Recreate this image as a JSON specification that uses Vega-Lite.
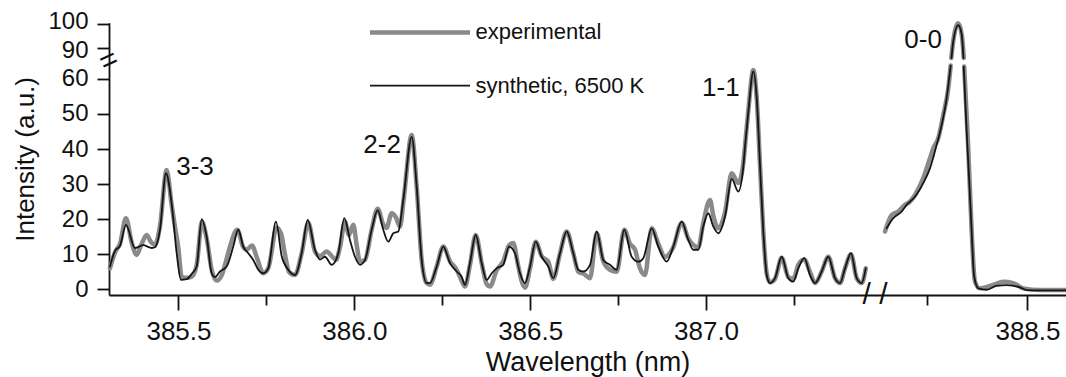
{
  "$schema": "https://vega.github.io/schema/vega-lite/v6.json",
  "width": 957,
  "height": 275,
  "autosize": "none",
  "padding": {"left": 109, "top": 20, "right": 0, "bottom": 82},
  "background": "white",
  "config": {
    "view": {"stroke": null},
    "font": "Liberation Sans",
    "axis": {"labelFont": "Liberation Sans", "titleFont": "Liberation Sans", "labelColor": "#111", "titleColor": "#111", "domainColor": "#111", "tickColor": "#111", "domainWidth": 1.8, "tickWidth": 1.8, "grid": false, "titleFontWeight": "normal", "labelOverlap": false}
  },
  "layer": [
    {
      "data": {"values": [
        {"series":"experimental","part":"a","wavelength":385.3052,"intensity":6.0},
        {"series":"experimental","part":"a","wavelength":385.3194,"intensity":10.5},
        {"series":"experimental","part":"a","wavelength":385.3337,"intensity":13.0},
        {"series":"experimental","part":"a","wavelength":385.3507,"intensity":20.3},
        {"series":"experimental","part":"a","wavelength":385.3678,"intensity":13.0},
        {"series":"experimental","part":"a","wavelength":385.3811,"intensity":9.8},
        {"series":"experimental","part":"a","wavelength":385.3934,"intensity":12.5},
        {"series":"experimental","part":"a","wavelength":385.4096,"intensity":15.5},
        {"series":"experimental","part":"a","wavelength":385.4218,"intensity":13.5},
        {"series":"experimental","part":"a","wavelength":385.4332,"intensity":12.7},
        {"series":"experimental","part":"a","wavelength":385.4474,"intensity":18.0},
        {"series":"experimental","part":"a","wavelength":385.4664,"intensity":34.0},
        {"series":"experimental","part":"a","wavelength":385.4807,"intensity":24.0},
        {"series":"experimental","part":"a","wavelength":385.4900,"intensity":17.9},
        {"series":"experimental","part":"a","wavelength":385.4994,"intensity":12.0},
        {"series":"experimental","part":"a","wavelength":385.5091,"intensity":3.6},
        {"series":"experimental","part":"a","wavelength":385.5233,"intensity":3.3},
        {"series":"experimental","part":"a","wavelength":385.5375,"intensity":3.6},
        {"series":"experimental","part":"a","wavelength":385.5518,"intensity":7.0},
        {"series":"experimental","part":"a","wavelength":385.5668,"intensity":19.2},
        {"series":"experimental","part":"a","wavelength":385.5810,"intensity":14.0},
        {"series":"experimental","part":"a","wavelength":385.5944,"intensity":5.6},
        {"series":"experimental","part":"a","wavelength":385.6086,"intensity":2.5},
        {"series":"experimental","part":"a","wavelength":385.6228,"intensity":4.0},
        {"series":"experimental","part":"a","wavelength":385.6351,"intensity":8.0},
        {"series":"experimental","part":"a","wavelength":385.6464,"intensity":12.2},
        {"series":"experimental","part":"a","wavelength":385.6672,"intensity":17.0},
        {"series":"experimental","part":"a","wavelength":385.6843,"intensity":12.0},
        {"series":"experimental","part":"a","wavelength":385.6939,"intensity":11.3},
        {"series":"experimental","part":"a","wavelength":385.7090,"intensity":12.5},
        {"series":"experimental","part":"a","wavelength":385.7232,"intensity":9.0},
        {"series":"experimental","part":"a","wavelength":385.7411,"intensity":4.6},
        {"series":"experimental","part":"a","wavelength":385.7553,"intensity":6.0},
        {"series":"experimental","part":"a","wavelength":385.7792,"intensity":17.6},
        {"series":"experimental","part":"a","wavelength":385.7915,"intensity":16.0},
        {"series":"experimental","part":"a","wavelength":385.8028,"intensity":10.0},
        {"series":"experimental","part":"a","wavelength":385.8142,"intensity":5.0},
        {"series":"experimental","part":"a","wavelength":385.8313,"intensity":4.1},
        {"series":"experimental","part":"a","wavelength":385.8503,"intensity":10.3},
        {"series":"experimental","part":"a","wavelength":385.8691,"intensity":19.0},
        {"series":"experimental","part":"a","wavelength":385.8881,"intensity":10.8},
        {"series":"experimental","part":"a","wavelength":385.9023,"intensity":9.5},
        {"series":"experimental","part":"a","wavelength":385.9214,"intensity":10.8},
        {"series":"experimental","part":"a","wavelength":385.9356,"intensity":9.5},
        {"series":"experimental","part":"a","wavelength":385.9478,"intensity":8.4},
        {"series":"experimental","part":"a","wavelength":385.9592,"intensity":12.0},
        {"series":"experimental","part":"a","wavelength":385.9734,"intensity":19.3},
        {"series":"experimental","part":"a","wavelength":385.9848,"intensity":15.5},
        {"series":"experimental","part":"a","wavelength":385.9970,"intensity":18.4},
        {"series":"experimental","part":"a","wavelength":386.0076,"intensity":12.0},
        {"series":"experimental","part":"a","wavelength":386.0161,"intensity":7.9},
        {"series":"experimental","part":"a","wavelength":386.0303,"intensity":8.4},
        {"series":"experimental","part":"a","wavelength":386.0493,"intensity":17.0},
        {"series":"experimental","part":"a","wavelength":386.0664,"intensity":23.0},
        {"series":"experimental","part":"a","wavelength":386.0823,"intensity":18.5},
        {"series":"experimental","part":"a","wavelength":386.0914,"intensity":17.5},
        {"series":"experimental","part":"a","wavelength":386.1062,"intensity":21.7},
        {"series":"experimental","part":"a","wavelength":386.1184,"intensity":20.5},
        {"series":"experimental","part":"a","wavelength":386.1298,"intensity":17.9},
        {"series":"experimental","part":"a","wavelength":386.1412,"intensity":26.5},
        {"series":"experimental","part":"a","wavelength":386.1631,"intensity":44.0},
        {"series":"experimental","part":"a","wavelength":386.1773,"intensity":29.3},
        {"series":"experimental","part":"a","wavelength":386.1915,"intensity":8.4},
        {"series":"experimental","part":"a","wavelength":386.2057,"intensity":1.8},
        {"series":"experimental","part":"a","wavelength":386.2151,"intensity":1.3},
        {"series":"experimental","part":"a","wavelength":386.2342,"intensity":6.5},
        {"series":"experimental","part":"a","wavelength":386.2529,"intensity":12.2},
        {"series":"experimental","part":"a","wavelength":386.2720,"intensity":8.0},
        {"series":"experimental","part":"a","wavelength":386.2910,"intensity":5.6},
        {"series":"experimental","part":"a","wavelength":386.3052,"intensity":2.5},
        {"series":"experimental","part":"a","wavelength":386.3146,"intensity":0.8},
        {"series":"experimental","part":"a","wavelength":386.3288,"intensity":7.0},
        {"series":"experimental","part":"a","wavelength":386.3451,"intensity":15.5},
        {"series":"experimental","part":"a","wavelength":386.3621,"intensity":7.5},
        {"series":"experimental","part":"a","wavelength":386.3763,"intensity":1.5},
        {"series":"experimental","part":"a","wavelength":386.3857,"intensity":0.8},
        {"series":"experimental","part":"a","wavelength":386.4048,"intensity":5.5},
        {"series":"experimental","part":"a","wavelength":386.4235,"intensity":8.0},
        {"series":"experimental","part":"a","wavelength":386.4397,"intensity":12.5},
        {"series":"experimental","part":"a","wavelength":386.4520,"intensity":13.2},
        {"series":"experimental","part":"a","wavelength":386.4653,"intensity":7.0},
        {"series":"experimental","part":"a","wavelength":386.4767,"intensity":2.0},
        {"series":"experimental","part":"a","wavelength":386.4852,"intensity":0.5},
        {"series":"experimental","part":"a","wavelength":386.4995,"intensity":6.0},
        {"series":"experimental","part":"a","wavelength":386.5157,"intensity":13.6},
        {"series":"experimental","part":"a","wavelength":386.5327,"intensity":9.5},
        {"series":"experimental","part":"a","wavelength":386.5515,"intensity":7.9},
        {"series":"experimental","part":"a","wavelength":386.5657,"intensity":3.0},
        {"series":"experimental","part":"a","wavelength":386.5848,"intensity":10.3},
        {"series":"experimental","part":"a","wavelength":386.6038,"intensity":16.5},
        {"series":"experimental","part":"a","wavelength":386.6226,"intensity":10.3},
        {"series":"experimental","part":"a","wavelength":386.6368,"intensity":5.0},
        {"series":"experimental","part":"a","wavelength":386.6510,"intensity":4.5},
        {"series":"experimental","part":"a","wavelength":386.6701,"intensity":3.2},
        {"series":"experimental","part":"a","wavelength":386.6891,"intensity":16.0},
        {"series":"experimental","part":"a","wavelength":386.7079,"intensity":8.0},
        {"series":"experimental","part":"a","wavelength":386.7269,"intensity":5.6},
        {"series":"experimental","part":"a","wavelength":386.7460,"intensity":5.0},
        {"series":"experimental","part":"a","wavelength":386.7676,"intensity":17.0},
        {"series":"experimental","part":"a","wavelength":386.7838,"intensity":13.0},
        {"series":"experimental","part":"a","wavelength":386.7980,"intensity":11.3},
        {"series":"experimental","part":"a","wavelength":386.8122,"intensity":6.0},
        {"series":"experimental","part":"a","wavelength":386.8264,"intensity":4.1},
        {"series":"experimental","part":"a","wavelength":386.8455,"intensity":17.4},
        {"series":"experimental","part":"a","wavelength":386.8643,"intensity":13.0},
        {"series":"experimental","part":"a","wavelength":386.8833,"intensity":9.3},
        {"series":"experimental","part":"a","wavelength":386.9069,"intensity":12.0},
        {"series":"experimental","part":"a","wavelength":386.9308,"intensity":19.0},
        {"series":"experimental","part":"a","wavelength":386.9496,"intensity":14.5},
        {"series":"experimental","part":"a","wavelength":386.9638,"intensity":12.7},
        {"series":"experimental","part":"a","wavelength":386.9780,"intensity":12.0},
        {"series":"experimental","part":"a","wavelength":386.9922,"intensity":19.0},
        {"series":"experimental","part":"a","wavelength":387.0113,"intensity":25.5},
        {"series":"experimental","part":"a","wavelength":387.0207,"intensity":21.0},
        {"series":"experimental","part":"a","wavelength":387.0349,"intensity":17.4},
        {"series":"experimental","part":"a","wavelength":387.0539,"intensity":22.0},
        {"series":"experimental","part":"a","wavelength":387.0730,"intensity":33.1},
        {"series":"experimental","part":"a","wavelength":387.0917,"intensity":30.3},
        {"series":"experimental","part":"a","wavelength":387.1060,"intensity":36.0},
        {"series":"experimental","part":"a","wavelength":387.1108,"intensity":41.0},
        {"series":"experimental","part":"a","wavelength":387.1202,"intensity":51.0},
        {"series":"experimental","part":"a","wavelength":387.1344,"intensity":62.5},
        {"series":"experimental","part":"a","wavelength":387.1441,"intensity":54.5},
        {"series":"experimental","part":"a","wavelength":387.1534,"intensity":35.5},
        {"series":"experimental","part":"a","wavelength":387.1628,"intensity":16.5},
        {"series":"experimental","part":"a","wavelength":387.1725,"intensity":4.5},
        {"series":"experimental","part":"a","wavelength":387.1819,"intensity":2.0},
        {"series":"experimental","part":"a","wavelength":387.1961,"intensity":3.0},
        {"series":"experimental","part":"a","wavelength":387.2151,"intensity":9.0},
        {"series":"experimental","part":"a","wavelength":387.2339,"intensity":3.5},
        {"series":"experimental","part":"a","wavelength":387.2481,"intensity":3.0},
        {"series":"experimental","part":"a","wavelength":387.2623,"intensity":7.0},
        {"series":"experimental","part":"a","wavelength":387.2794,"intensity":8.5},
        {"series":"experimental","part":"a","wavelength":387.2956,"intensity":5.0},
        {"series":"experimental","part":"a","wavelength":387.3098,"intensity":1.8},
        {"series":"experimental","part":"a","wavelength":387.3289,"intensity":5.1},
        {"series":"experimental","part":"a","wavelength":387.3476,"intensity":9.3},
        {"series":"experimental","part":"a","wavelength":387.3667,"intensity":3.2},
        {"series":"experimental","part":"a","wavelength":387.3809,"intensity":1.8},
        {"series":"experimental","part":"a","wavelength":387.3951,"intensity":6.0},
        {"series":"experimental","part":"a","wavelength":387.4122,"intensity":10.0},
        {"series":"experimental","part":"a","wavelength":387.4284,"intensity":3.2},
        {"series":"experimental","part":"a","wavelength":387.4426,"intensity":1.8},
        {"series":"experimental","part":"a","wavelength":387.4540,"intensity":6.0},
        {"series":"experimental","part":"b","wavelength":388.1452,"intensity":16.5},
        {"series":"experimental","part":"b","wavelength":388.1619,"intensity":21.2},
        {"series":"experimental","part":"b","wavelength":388.1783,"intensity":22.2},
        {"series":"experimental","part":"b","wavelength":388.1950,"intensity":24.1},
        {"series":"experimental","part":"b","wavelength":388.2074,"intensity":25.0},
        {"series":"experimental","part":"b","wavelength":388.2199,"intensity":26.9},
        {"series":"experimental","part":"b","wavelength":388.2405,"intensity":31.7},
        {"series":"experimental","part":"b","wavelength":388.2572,"intensity":37.4},
        {"series":"experimental","part":"b","wavelength":388.2654,"intensity":40.2},
        {"series":"experimental","part":"b","wavelength":388.2779,"intensity":43.1},
        {"series":"experimental","part":"b","wavelength":388.2903,"intensity":49.7},
        {"series":"experimental","part":"b","wavelength":388.3028,"intensity":57.3},
        {"series":"experimental","part":"b","wavelength":388.3088,"intensity":63.8},
        {"series":"experimental","part":"c","wavelength":388.3103,"intensity":86},
        {"series":"experimental","part":"c","wavelength":388.3152,"intensity":93},
        {"series":"experimental","part":"c","wavelength":388.3277,"intensity":100.3},
        {"series":"experimental","part":"c","wavelength":388.3369,"intensity":95},
        {"series":"experimental","part":"c","wavelength":388.3414,"intensity":86},
        {"series":"experimental","part":"d","wavelength":388.3424,"intensity":63.5},
        {"series":"experimental","part":"d","wavelength":388.3526,"intensity":40.2},
        {"series":"experimental","part":"d","wavelength":388.3611,"intensity":16.5},
        {"series":"experimental","part":"d","wavelength":388.3693,"intensity":2.2},
        {"series":"experimental","part":"d","wavelength":388.3817,"intensity":0.3},
        {"series":"experimental","part":"d","wavelength":388.4148,"intensity":1.3},
        {"series":"experimental","part":"d","wavelength":388.4397,"intensity":2.2},
        {"series":"experimental","part":"d","wavelength":388.4646,"intensity":1.8},
        {"series":"experimental","part":"d","wavelength":388.4895,"intensity":0.3},
        {"series":"experimental","part":"d","wavelength":388.5311,"intensity":-0.2},
        {"series":"experimental","part":"d","wavelength":388.5959,"intensity":-0.2},
        {"series":"synthetic, 6500 K","part":"a","wavelength":385.3052,"intensity":6.5},
        {"series":"synthetic, 6500 K","part":"a","wavelength":385.3194,"intensity":11.0},
        {"series":"synthetic, 6500 K","part":"a","wavelength":385.3337,"intensity":12.4},
        {"series":"synthetic, 6500 K","part":"a","wavelength":385.3507,"intensity":18.4},
        {"series":"synthetic, 6500 K","part":"a","wavelength":385.3763,"intensity":11.8},
        {"series":"synthetic, 6500 K","part":"a","wavelength":385.3991,"intensity":12.6},
        {"series":"synthetic, 6500 K","part":"a","wavelength":385.4247,"intensity":11.8},
        {"series":"synthetic, 6500 K","part":"a","wavelength":385.4332,"intensity":12.0},
        {"series":"synthetic, 6500 K","part":"a","wavelength":385.4474,"intensity":17.0},
        {"series":"synthetic, 6500 K","part":"a","wavelength":385.4645,"intensity":33.1},
        {"series":"synthetic, 6500 K","part":"a","wavelength":385.4807,"intensity":24.4},
        {"series":"synthetic, 6500 K","part":"a","wavelength":385.4949,"intensity":10.3},
        {"series":"synthetic, 6500 K","part":"a","wavelength":385.5071,"intensity":2.7},
        {"series":"synthetic, 6500 K","part":"a","wavelength":385.5233,"intensity":2.9},
        {"series":"synthetic, 6500 K","part":"a","wavelength":385.5375,"intensity":4.4},
        {"series":"synthetic, 6500 K","part":"a","wavelength":385.5518,"intensity":6.5},
        {"series":"synthetic, 6500 K","part":"a","wavelength":385.5660,"intensity":20.0},
        {"series":"synthetic, 6500 K","part":"a","wavelength":385.5802,"intensity":15.0},
        {"series":"synthetic, 6500 K","part":"a","wavelength":385.5944,"intensity":4.6},
        {"series":"synthetic, 6500 K","part":"a","wavelength":385.6038,"intensity":3.5},
        {"series":"synthetic, 6500 K","part":"a","wavelength":385.6180,"intensity":5.1},
        {"series":"synthetic, 6500 K","part":"a","wavelength":385.6371,"intensity":6.5},
        {"series":"synthetic, 6500 K","part":"a","wavelength":385.6558,"intensity":12.2},
        {"series":"synthetic, 6500 K","part":"a","wavelength":385.6700,"intensity":17.0},
        {"series":"synthetic, 6500 K","part":"a","wavelength":385.6843,"intensity":12.2},
        {"series":"synthetic, 6500 K","part":"a","wavelength":385.6985,"intensity":10.3},
        {"series":"synthetic, 6500 K","part":"a","wavelength":385.7127,"intensity":8.4},
        {"series":"synthetic, 6500 K","part":"a","wavelength":385.7269,"intensity":5.6},
        {"series":"synthetic, 6500 K","part":"a","wavelength":385.7411,"intensity":4.6},
        {"series":"synthetic, 6500 K","part":"a","wavelength":385.7553,"intensity":6.0},
        {"series":"synthetic, 6500 K","part":"a","wavelength":385.7772,"intensity":19.3},
        {"series":"synthetic, 6500 K","part":"a","wavelength":385.7934,"intensity":9.5},
        {"series":"synthetic, 6500 K","part":"a","wavelength":385.8122,"intensity":5.6},
        {"series":"synthetic, 6500 K","part":"a","wavelength":385.8313,"intensity":4.1},
        {"series":"synthetic, 6500 K","part":"a","wavelength":385.8503,"intensity":10.3},
        {"series":"synthetic, 6500 K","part":"a","wavelength":385.8674,"intensity":19.8},
        {"series":"synthetic, 6500 K","part":"a","wavelength":385.8881,"intensity":11.3},
        {"series":"synthetic, 6500 K","part":"a","wavelength":385.9023,"intensity":8.5},
        {"series":"synthetic, 6500 K","part":"a","wavelength":385.9166,"intensity":9.3},
        {"series":"synthetic, 6500 K","part":"a","wavelength":385.9356,"intensity":7.0},
        {"series":"synthetic, 6500 K","part":"a","wavelength":385.9544,"intensity":10.3},
        {"series":"synthetic, 6500 K","part":"a","wavelength":385.9714,"intensity":20.3},
        {"series":"synthetic, 6500 K","part":"a","wavelength":385.9876,"intensity":14.1},
        {"series":"synthetic, 6500 K","part":"a","wavelength":386.0019,"intensity":9.3},
        {"series":"synthetic, 6500 K","part":"a","wavelength":386.0161,"intensity":7.0},
        {"series":"synthetic, 6500 K","part":"a","wavelength":386.0303,"intensity":8.4},
        {"series":"synthetic, 6500 K","part":"a","wavelength":386.0493,"intensity":17.0},
        {"series":"synthetic, 6500 K","part":"a","wavelength":386.0664,"intensity":22.6},
        {"series":"synthetic, 6500 K","part":"a","wavelength":386.0823,"intensity":17.0},
        {"series":"synthetic, 6500 K","part":"a","wavelength":386.0966,"intensity":13.6},
        {"series":"synthetic, 6500 K","part":"a","wavelength":386.1108,"intensity":16.0},
        {"series":"synthetic, 6500 K","part":"a","wavelength":386.1250,"intensity":16.5},
        {"series":"synthetic, 6500 K","part":"a","wavelength":386.1392,"intensity":25.5},
        {"series":"synthetic, 6500 K","part":"a","wavelength":386.1631,"intensity":43.5},
        {"series":"synthetic, 6500 K","part":"a","wavelength":386.1773,"intensity":29.3},
        {"series":"synthetic, 6500 K","part":"a","wavelength":386.1915,"intensity":8.4},
        {"series":"synthetic, 6500 K","part":"a","wavelength":386.2057,"intensity":1.8},
        {"series":"synthetic, 6500 K","part":"a","wavelength":386.2151,"intensity":1.8},
        {"series":"synthetic, 6500 K","part":"a","wavelength":386.2342,"intensity":6.5},
        {"series":"synthetic, 6500 K","part":"a","wavelength":386.2529,"intensity":12.2},
        {"series":"synthetic, 6500 K","part":"a","wavelength":386.2720,"intensity":7.5},
        {"series":"synthetic, 6500 K","part":"a","wavelength":386.2910,"intensity":5.1},
        {"series":"synthetic, 6500 K","part":"a","wavelength":386.3052,"intensity":3.6},
        {"series":"synthetic, 6500 K","part":"a","wavelength":386.3146,"intensity":1.3},
        {"series":"synthetic, 6500 K","part":"a","wavelength":386.3288,"intensity":7.5},
        {"series":"synthetic, 6500 K","part":"a","wavelength":386.3451,"intensity":15.5},
        {"series":"synthetic, 6500 K","part":"a","wavelength":386.3621,"intensity":7.5},
        {"series":"synthetic, 6500 K","part":"a","wavelength":386.3763,"intensity":2.7},
        {"series":"synthetic, 6500 K","part":"a","wavelength":386.3906,"intensity":4.6},
        {"series":"synthetic, 6500 K","part":"a","wavelength":386.4048,"intensity":6.0},
        {"series":"synthetic, 6500 K","part":"a","wavelength":386.4235,"intensity":7.0},
        {"series":"synthetic, 6500 K","part":"a","wavelength":386.4397,"intensity":12.2},
        {"series":"synthetic, 6500 K","part":"a","wavelength":386.4568,"intensity":10.3},
        {"series":"synthetic, 6500 K","part":"a","wavelength":386.4710,"intensity":4.6},
        {"series":"synthetic, 6500 K","part":"a","wavelength":386.4852,"intensity":1.8},
        {"series":"synthetic, 6500 K","part":"a","wavelength":386.4995,"intensity":6.5},
        {"series":"synthetic, 6500 K","part":"a","wavelength":386.5157,"intensity":13.6},
        {"series":"synthetic, 6500 K","part":"a","wavelength":386.5327,"intensity":9.3},
        {"series":"synthetic, 6500 K","part":"a","wavelength":386.5515,"intensity":6.5},
        {"series":"synthetic, 6500 K","part":"a","wavelength":386.5657,"intensity":3.2},
        {"series":"synthetic, 6500 K","part":"a","wavelength":386.5848,"intensity":10.3},
        {"series":"synthetic, 6500 K","part":"a","wavelength":386.6038,"intensity":16.5},
        {"series":"synthetic, 6500 K","part":"a","wavelength":386.6226,"intensity":10.3},
        {"series":"synthetic, 6500 K","part":"a","wavelength":386.6368,"intensity":5.6},
        {"series":"synthetic, 6500 K","part":"a","wavelength":386.6510,"intensity":5.1},
        {"series":"synthetic, 6500 K","part":"a","wavelength":386.6701,"intensity":7.0},
        {"series":"synthetic, 6500 K","part":"a","wavelength":386.6891,"intensity":16.5},
        {"series":"synthetic, 6500 K","part":"a","wavelength":386.7079,"intensity":8.4},
        {"series":"synthetic, 6500 K","part":"a","wavelength":386.7269,"intensity":7.0},
        {"series":"synthetic, 6500 K","part":"a","wavelength":386.7460,"intensity":5.6},
        {"series":"synthetic, 6500 K","part":"a","wavelength":386.7676,"intensity":17.0},
        {"series":"synthetic, 6500 K","part":"a","wavelength":386.7886,"intensity":9.3},
        {"series":"synthetic, 6500 K","part":"a","wavelength":386.8074,"intensity":7.9},
        {"series":"synthetic, 6500 K","part":"a","wavelength":386.8216,"intensity":8.9},
        {"series":"synthetic, 6500 K","part":"a","wavelength":386.8455,"intensity":17.4},
        {"series":"synthetic, 6500 K","part":"a","wavelength":386.8643,"intensity":12.2},
        {"series":"synthetic, 6500 K","part":"a","wavelength":386.8882,"intensity":7.9},
        {"series":"synthetic, 6500 K","part":"a","wavelength":386.9069,"intensity":12.2},
        {"series":"synthetic, 6500 K","part":"a","wavelength":386.9308,"intensity":19.3},
        {"series":"synthetic, 6500 K","part":"a","wavelength":386.9496,"intensity":14.1},
        {"series":"synthetic, 6500 K","part":"a","wavelength":386.9638,"intensity":11.3},
        {"series":"synthetic, 6500 K","part":"a","wavelength":386.9780,"intensity":11.3},
        {"series":"synthetic, 6500 K","part":"a","wavelength":386.9922,"intensity":17.9},
        {"series":"synthetic, 6500 K","part":"a","wavelength":387.0064,"intensity":21.7},
        {"series":"synthetic, 6500 K","part":"a","wavelength":387.0207,"intensity":17.9},
        {"series":"synthetic, 6500 K","part":"a","wavelength":387.0349,"intensity":16.0},
        {"series":"synthetic, 6500 K","part":"a","wavelength":387.0539,"intensity":20.7},
        {"series":"synthetic, 6500 K","part":"a","wavelength":387.0730,"intensity":31.5},
        {"series":"synthetic, 6500 K","part":"a","wavelength":387.0917,"intensity":27.9},
        {"series":"synthetic, 6500 K","part":"a","wavelength":387.1060,"intensity":35.0},
        {"series":"synthetic, 6500 K","part":"a","wavelength":387.1108,"intensity":40.7},
        {"series":"synthetic, 6500 K","part":"a","wavelength":387.1202,"intensity":50.5},
        {"series":"synthetic, 6500 K","part":"a","wavelength":387.1344,"intensity":62.1},
        {"series":"synthetic, 6500 K","part":"a","wavelength":387.1441,"intensity":54.5},
        {"series":"synthetic, 6500 K","part":"a","wavelength":387.1534,"intensity":35.5},
        {"series":"synthetic, 6500 K","part":"a","wavelength":387.1628,"intensity":16.5},
        {"series":"synthetic, 6500 K","part":"a","wavelength":387.1725,"intensity":4.1},
        {"series":"synthetic, 6500 K","part":"a","wavelength":387.1819,"intensity":1.8},
        {"series":"synthetic, 6500 K","part":"a","wavelength":387.1961,"intensity":3.2},
        {"series":"synthetic, 6500 K","part":"a","wavelength":387.2151,"intensity":9.3},
        {"series":"synthetic, 6500 K","part":"a","wavelength":387.2339,"intensity":3.2},
        {"series":"synthetic, 6500 K","part":"a","wavelength":387.2481,"intensity":2.2},
        {"series":"synthetic, 6500 K","part":"a","wavelength":387.2623,"intensity":6.0},
        {"series":"synthetic, 6500 K","part":"a","wavelength":387.2794,"intensity":8.9},
        {"series":"synthetic, 6500 K","part":"a","wavelength":387.2956,"intensity":4.1},
        {"series":"synthetic, 6500 K","part":"a","wavelength":387.3098,"intensity":1.8},
        {"series":"synthetic, 6500 K","part":"a","wavelength":387.3289,"intensity":5.1},
        {"series":"synthetic, 6500 K","part":"a","wavelength":387.3476,"intensity":9.3},
        {"series":"synthetic, 6500 K","part":"a","wavelength":387.3667,"intensity":3.2},
        {"series":"synthetic, 6500 K","part":"a","wavelength":387.3809,"intensity":1.8},
        {"series":"synthetic, 6500 K","part":"a","wavelength":387.3951,"intensity":6.0},
        {"series":"synthetic, 6500 K","part":"a","wavelength":387.4122,"intensity":10.3},
        {"series":"synthetic, 6500 K","part":"a","wavelength":387.4284,"intensity":3.2},
        {"series":"synthetic, 6500 K","part":"a","wavelength":387.4426,"intensity":1.8},
        {"series":"synthetic, 6500 K","part":"a","wavelength":387.4540,"intensity":6.0},
        {"series":"synthetic, 6500 K","part":"b","wavelength":388.1494,"intensity":17.4},
        {"series":"synthetic, 6500 K","part":"b","wavelength":388.1658,"intensity":20.3},
        {"series":"synthetic, 6500 K","part":"b","wavelength":388.1868,"intensity":22.2},
        {"series":"synthetic, 6500 K","part":"b","wavelength":388.1992,"intensity":24.1},
        {"series":"synthetic, 6500 K","part":"b","wavelength":388.2199,"intensity":26.4},
        {"series":"synthetic, 6500 K","part":"b","wavelength":388.2405,"intensity":30.3},
        {"series":"synthetic, 6500 K","part":"b","wavelength":388.2572,"intensity":34.5},
        {"series":"synthetic, 6500 K","part":"b","wavelength":388.2739,"intensity":41.2},
        {"series":"synthetic, 6500 K","part":"b","wavelength":388.2864,"intensity":46.9},
        {"series":"synthetic, 6500 K","part":"b","wavelength":388.2988,"intensity":54.5},
        {"series":"synthetic, 6500 K","part":"b","wavelength":388.3070,"intensity":62.1},
        {"series":"synthetic, 6500 K","part":"b","wavelength":388.3088,"intensity":63.8},
        {"series":"synthetic, 6500 K","part":"c","wavelength":388.3108,"intensity":86},
        {"series":"synthetic, 6500 K","part":"c","wavelength":388.3152,"intensity":92.8},
        {"series":"synthetic, 6500 K","part":"c","wavelength":388.3277,"intensity":99.5},
        {"series":"synthetic, 6500 K","part":"c","wavelength":388.3362,"intensity":95.7},
        {"series":"synthetic, 6500 K","part":"c","wavelength":388.3406,"intensity":86},
        {"series":"synthetic, 6500 K","part":"d","wavelength":388.3413,"intensity":63.5},
        {"series":"synthetic, 6500 K","part":"d","wavelength":388.3486,"intensity":45.0},
        {"series":"synthetic, 6500 K","part":"d","wavelength":388.3551,"intensity":30.7},
        {"series":"synthetic, 6500 K","part":"d","wavelength":388.3611,"intensity":16.5},
        {"series":"synthetic, 6500 K","part":"d","wavelength":388.3668,"intensity":4.1},
        {"series":"synthetic, 6500 K","part":"d","wavelength":388.3775,"intensity":0.3},
        {"series":"synthetic, 6500 K","part":"d","wavelength":388.3984,"intensity":-0.1},
        {"series":"synthetic, 6500 K","part":"d","wavelength":388.4233,"intensity":1.0},
        {"series":"synthetic, 6500 K","part":"d","wavelength":388.4482,"intensity":1.2},
        {"series":"synthetic, 6500 K","part":"d","wavelength":388.4813,"intensity":0.6},
        {"series":"synthetic, 6500 K","part":"d","wavelength":388.4980,"intensity":-0.2},
        {"series":"synthetic, 6500 K","part":"d","wavelength":388.5311,"intensity":-0.3},
        {"series":"synthetic, 6500 K","part":"d","wavelength":388.5959,"intensity":-0.3}
      ]},
      "mark": {"type": "line", "strokeJoin": "round", "strokeCap": "round", "interpolate": "monotone"},
      "encoding": {
        "x": {
          "field": "wavelength", "type": "quantitative",
          "scale": {"domain": [385.3025, 387.47, 388.14, 388.596], "range": [0, 762.35, 773.9, 957], "zero": false, "nice": false},
          "axis": {
            "title": "Wavelength (nm)", "titleFontSize": 27, "titlePadding": 5,
            "values": [385.5, 385.75, 386, 386.25, 386.5, 386.75, 387, 387.25, 388.25, 388.5],
            "tickCount": 30,
            "labelExpr": "(datum.value == 385.75 || datum.value == 386.25 || datum.value == 386.75 || datum.value == 387.25 || datum.value == 388.25) ? '' : format(datum.value, '.1f')",
            "tickSize": {"condition": {"test": "datum.value == 385.75 || datum.value == 386.25 || datum.value == 386.75 || datum.value == 387.25 || datum.value == 388.25", "value": 10}, "value": 15},
            "labelFontSize": 26, "labelPadding": 8, "labelFlush": false, "labelOverlap": false
          }
        },
        "y": {
          "field": "intensity", "type": "quantitative",
          "scale": {"domain": [-1.6, 65, 85, 100.5], "range": [275, 41.35, 40.45, 2.8], "zero": false, "nice": false},
          "axis": {
            "title": "Intensity (a.u.)", "titleFontSize": 26, "titlePadding": 9,
            "values": [0, 10, 20, 30, 40, 50, 60, 90, 100],
            "tickCount": 30,
            "labelOffset": {"condition": [{"test": "datum.value == 100", "value": -3}, {"test": "datum.value == 90", "value": 2}], "value": 0},
            "tickSize": 12, "labelFontSize": 24, "labelPadding": 9, "labelOverlap": false
          }
        },
        "color": {
          "field": "series", "type": "nominal",
          "scale": {"domain": ["experimental", "synthetic, 6500 K"], "range": ["#8a8a8a", "#151515"]},
          "legend": {"orient": "none", "legendX": 258.5, "legendY": -2.6, "title": null, "symbolType": "stroke", "symbolSize": 10000, "clipHeight": 30, "labelFontSize": 22, "labelFont": "Liberation Sans", "labelColor": "#111", "labelOffset": 3, "labelLimit": 400, "rowPadding": 23.3, "padding": 0}
        },
        "strokeWidth": {
          "field": "series", "type": "nominal",
          "scale": {"domain": ["experimental", "synthetic, 6500 K"], "range": [4.5, 1.8]},
          "legend": {"orient": "none", "legendX": 258.5, "legendY": -2.6, "title": null, "symbolType": "stroke", "symbolSize": 10000, "clipHeight": 30, "labelFontSize": 22, "labelFont": "Liberation Sans", "labelColor": "#111", "labelOffset": 3, "labelLimit": 400, "rowPadding": 23.3, "padding": 0}
        },
        "detail": {"field": "part", "type": "nominal"}
      }
    },
    {
      "data": {"values": [
        {"label": "3-3", "wavelength": 385.547, "intensity": 35.0},
        {"label": "2-2", "wavelength": 386.079, "intensity": 41.2},
        {"label": "1-1", "wavelength": 387.042, "intensity": 57.4},
        {"label": "0-0", "wavelength": 388.24, "intensity": 93.6}
      ]},
      "mark": {"type": "text", "fontSize": 26, "font": "Liberation Sans", "color": "#111", "align": "center", "baseline": "middle"},
      "encoding": {
        "x": {"field": "wavelength", "type": "quantitative"},
        "y": {"field": "intensity", "type": "quantitative"},
        "text": {"field": "label"}
      }
    },
    {
      "data": {"values": [
        {"label": "/ /", "wavelength": 387.68, "intensity": -1.6, "angle": 0},
        {"label": "=", "wavelength": 385.3025, "intensity": 75, "angle": -25}
      ]},
      "mark": {"type": "text", "fontSize": 30, "font": "Liberation Sans", "color": "#111", "align": "center", "baseline": "middle"},
      "encoding": {
        "x": {"field": "wavelength", "type": "quantitative"},
        "y": {"field": "intensity", "type": "quantitative"},
        "text": {"field": "label"},
        "angle": {"field": "angle", "type": "quantitative", "scale": null}
      }
    }
  ]
}
